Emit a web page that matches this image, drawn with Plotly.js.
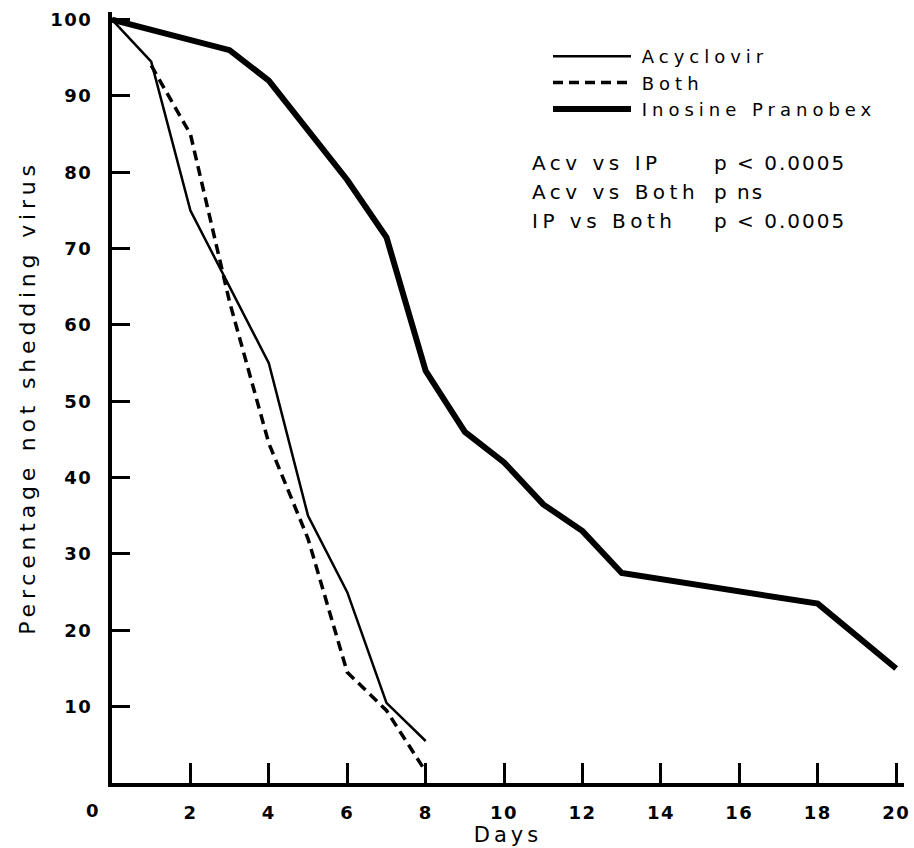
<!DOCTYPE html>
<html>
<head>
<meta charset="utf-8">
<script src="https://cdn.plot.ly/plotly-3.0.1.min.js"></script>
<style>
  html, body { margin: 0; padding: 0; background: #fff; }
  #chart { width: 914px; height: 848px; }
</style>
</head>
<body>
<div id="chart"></div>
<script>
// ---- data ----
const acvDays  = [0, 1, 2, 3, 4, 5, 6, 7, 8];
const acvPct   = [100, 94.5, 75, 65, 55, 35, 25, 10.5, 5.5];

const bothDays = [1, 2, 3, 4, 5, 6, 7, 8];
const bothPct  = [94, 85, 63, 44.5, 32, 14.5, 9.5, 1.5];

const ipDays   = [0, 3, 4, 5, 6, 7, 8, 9, 10, 11, 12, 13, 18, 20];
const ipPct    = [100, 96, 92, 85.5, 79, 71.5, 54, 46, 42, 36.5, 33, 27.5, 23.5, 15];

const seriesNames = ["Acyclovir", "Both", "Inosine Pranobex"];

const xTickVals = [2, 4, 6, 8, 10, 12, 14, 16, 18, 20];
const xTickText = ["2", "4", "6", "8", "10", "12", "14", "16", "18", "20"];
const yTickVals = [10, 20, 30, 40, 50, 60, 70, 80, 90, 100];
const yTickText = ["10", "20", "30", "40", "50", "60", "70", "80", "90", "100"];
const originLabel = "0";

const statLeft  = ["Acv vs IP", "Acv vs Both", "IP vs Both"];
const statRight = ["p < 0.0005", "p ns", "p < 0.0005"];

const xTitle = "Days";
const yTitle = "Percentage not shedding virus";

// ---- layout helpers ----
const W = 914, H = 848;
const M = { l: 112, r: 10, t: 12, b: 65 };
const PW = W - M.l - M.r, PH = H - M.t - M.b;
const px2x = p => (p - M.l) / PW;
const px2y = p => (H - M.b - p) / PH;

// widen type like the original typewriter-style lettering
const sp = (t, px) => '<span style="letter-spacing:' + px + 'px">' + t.replace(/</g, "&lt;") + '</span>';

const FONT = "DejaVu Sans, Liberation Sans, sans-serif";
const black = "#000";

const traces = [
  { x: acvDays, y: acvPct, name: "\u00a0" + sp(seriesNames[0], 5), mode: "lines",
    line: { color: black, width: 2.5 } },
  { x: bothDays, y: bothPct, name: "\u00a0" + sp(seriesNames[1], 5), mode: "lines",
    line: { color: black, width: 3.5, dash: "10px,6px" } },
  { x: ipDays, y: ipPct, name: "\u00a0" + sp(seriesNames[2], 5), mode: "lines",
    line: { color: black, width: 6 } }
];

const annotations = [];
const rowY = [163, 192, 221];
for (let i = 0; i < statLeft.length; i++) {
  annotations.push({ xref: "paper", yref: "paper", x: px2x(530), y: px2y(rowY[i]),
    xanchor: "left", yanchor: "middle", showarrow: false, text: sp(statLeft[i], 4.5),
    font: { family: FONT, size: 20, color: black } });
}
for (let i = 0; i < statRight.length; i++) {
  annotations.push({ xref: "paper", yref: "paper", x: px2x(712), y: px2y(rowY[i]),
    xanchor: "left", yanchor: "middle", showarrow: false, text: sp(statRight[i], 2),
    font: { family: FONT, size: 20, color: black } });
}
annotations.push({ xref: "x", yref: "y", x: 0, y: 0, xshift: -20, yshift: -27,
  xanchor: "center", yanchor: "middle", showarrow: false, text: originLabel,
  font: { family: FONT, size: 18, color: black, weight: "bold" } });

const layout = {
  width: W, height: H,
  margin: M,
  paper_bgcolor: "#fff", plot_bgcolor: "#fff",
  font: { family: FONT, color: black },
  showlegend: true,
  legend: {
    x: px2x(548), y: px2y(38), xanchor: "left", yanchor: "top",
    bgcolor: "rgba(0,0,0,0)", borderwidth: 0,
    font: { family: FONT, size: 18, color: black },
    itemwidth: 78, tracegroupgap: 0
  },
  xaxis: {
    range: [0, 20.2], showgrid: false, zeroline: false,
    showline: true, linecolor: black, linewidth: 4,
    ticks: "inside", ticklen: 20, tickwidth: 3, tickcolor: black,
    tickvals: xTickVals, ticktext: xTickText.map(t => sp(t, 1.5)), ticklabelstandoff: 10,
    tickfont: { family: FONT, size: 18, color: black, weight: "bold" },
    title: { text: sp(xTitle, 4), standoff: 4, font: { family: FONT, size: 21, color: black } }
  },
  yaxis: {
    range: [0, 101], showgrid: false, zeroline: false,
    showline: true, linecolor: black, linewidth: 4,
    ticks: "inside", ticklen: 18, tickwidth: 3, tickcolor: black,
    tickvals: yTickVals, ticktext: yTickText.map(t => sp(t, 1.5)), ticklabelstandoff: 12,
    tickfont: { family: FONT, size: 18, color: black, weight: "bold" },
    title: { text: sp(yTitle, 4.8), standoff: 10, font: { family: FONT, size: 22, color: black } }
  },
  annotations: annotations
};

Plotly.newPlot("chart", traces, layout, { displayModeBar: false, staticPlot: true });
</script>
</body>
</html>
